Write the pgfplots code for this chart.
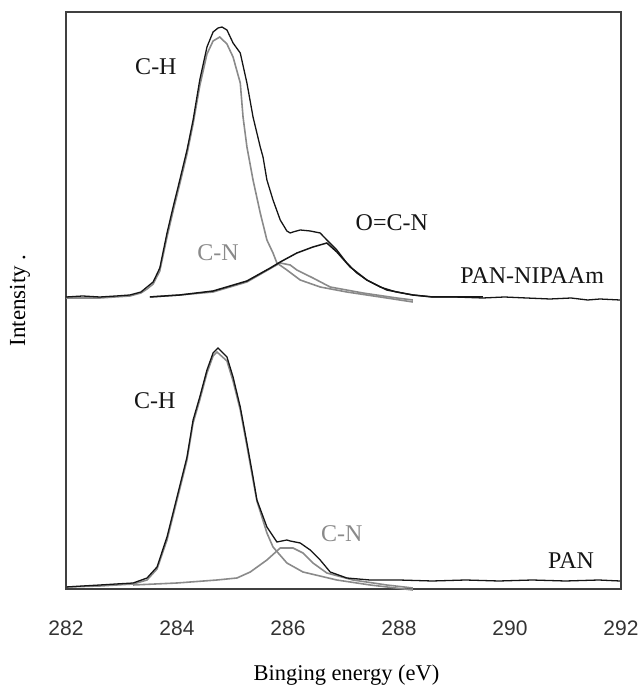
\documentclass[border=0pt]{standalone}
\usepackage{fontspec}
\setmainfont{Liberation Serif}
\newfontfamily\arialfont{Liberation Sans}
\usepackage{pgfplots}
\pgfplotsset{compat=1.18}
\definecolor{gline}{HTML}{8A8A8A}
\definecolor{bline}{HTML}{151515}
\definecolor{axgray}{HTML}{404040}
\begin{document}
\begin{tikzpicture}
\useasboundingbox (0,0) rectangle (640bp,687bp);
\begin{axis}[
  at={(66bp,98bp)}, anchor=south west,
  scale only axis, width=555bp, height=577bp,
  xmin=282, xmax=292, ymin=0, ymax=577,
  xtick={282,284,...,292}, ytick=\empty,
  major tick length=0pt,
  axis line style={axgray, line width=1.1pt},
  /pgf/number format/assume math mode=true,
  /pgf/number format/.cd, 1000 sep={}, /pgfplots/.cd,
  xticklabel style={font=\arialfont\fontsize{21bp}{24bp}\selectfont, text=black!80, anchor=center, yshift=-39bp},
  xlabel={Binging energy (eV)},
  xlabel style={font=\fontsize{22.5bp}{26bp}\selectfont, at={(axis description cs:0.5,0)}, anchor=center, yshift=-86bp, xshift=3bp},
  ylabel={Intensity .},
  ylabel style={font=\fontsize{23bp}{26bp}\selectfont, at={(axis description cs:0,0.5)}, anchor=center, yshift=46bp},
  clip=false,
]
% ---------- PAN-NIPAAm (upper) ----------
% C-H component (grey)
\addplot[gline, line width=1.6pt] coordinates {
(282.00,291) (282.61,291) (283.15,293) (283.35,296) (283.46,300) (283.57,305) (283.69,318)
(283.82,352) (283.93,378) (284.05,405) (284.18,435) (284.29,465) (284.41,503) (284.54,535)
(284.65,548) (284.77,552) (284.90,545) (285.01,532) (285.14,506) (285.19,472) (285.26,442)
(285.37,409) (285.50,376) (285.62,349) (285.73,336) (285.80,326) (285.98,319) (286.22,309)
(286.58,302) (287.06,297) (287.66,292) (288.25,287)};
% C-N component (grey)
\addplot[gline, line width=1.6pt] coordinates {
(283.51,292) (284.05,294) (284.65,297) (285.26,307) (285.73,322) (285.86,326) (286.04,324)
(286.16,319) (286.45,311) (286.76,302) (287.35,296) (287.96,291) (288.25,289)};
% O=C-N component (black)
\addplot[bline, line width=1.5pt] coordinates {
(283.51,292) (284.05,294) (284.65,298) (285.26,308) (285.68,321) (285.86,327) (286.16,336)
(286.45,342) (286.70,346) (286.88,337) (287.12,322) (287.42,309) (287.78,299) (288.25,294)
(288.61,292) (289.51,292)};
% envelope (black)
\addplot[bline, line width=1.3pt] coordinates {
(282.00,292) (282.30,293) (282.61,292) (282.90,293) (283.15,294) (283.35,297) (283.46,302)
(283.57,307) (283.69,321) (283.82,356) (283.93,382) (284.05,409) (284.18,439) (284.29,469)
(284.41,509) (284.54,542) (284.65,557) (284.74,561) (284.81,562) (284.90,559) (285.01,546)
(285.14,536) (285.26,506) (285.37,472) (285.50,442) (285.55,432) (285.62,409) (285.73,389)
(285.86,369) (285.98,358) (286.04,356) (286.09,357) (286.22,359) (286.40,358) (286.58,356)
(286.70,349) (286.88,339) (287.06,326) (287.24,316) (287.42,309) (287.66,302) (287.95,297)
(288.25,294) (288.61,292) (289.00,292) (289.51,291) (289.90,292) (290.30,291) (290.72,290)
(291.10,291) (291.40,289) (291.62,290) (291.98,289)};
% ---------- PAN (lower) ----------
% C-H component (grey)
\addplot[gline, line width=1.6pt] coordinates {
(282.00,2) (282.61,3) (283.21,5) (283.46,9) (283.64,20) (283.82,49) (284.00,89) (284.18,129)
(284.29,166) (284.41,189) (284.54,216) (284.65,233) (284.72,237) (284.90,228) (285.01,208)
(285.14,179) (285.26,143) (285.37,109) (285.44,88) (285.62,56) (285.73,42) (285.98,26)
(286.27,17) (286.88,9) (287.48,4) (288.25,-1)};
% C-N component (grey)
\addplot[gline, line width=1.6pt] coordinates {
(283.21,4) (284.00,6) (284.72,9) (285.08,11) (285.32,17) (285.62,29) (285.86,41) (286.09,41)
(286.27,36) (286.45,26) (286.70,16) (287.17,9) (287.78,4) (288.25,1)};
% envelope (black)
\addplot[bline, line width=1.3pt] coordinates {
(282.00,2) (282.30,3) (282.61,4) (282.90,5) (283.21,6) (283.46,11) (283.64,22) (283.82,52)
(284.00,92) (284.18,132) (284.29,169) (284.41,192) (284.54,219) (284.65,236) (284.74,241)
(284.90,232) (285.01,212) (285.14,182) (285.26,146) (285.37,112) (285.44,89) (285.62,62)
(285.80,47) (285.98,49) (286.04,48) (286.22,46) (286.40,39) (286.58,29) (286.76,17)
(287.06,11) (287.48,9) (288.00,9) (288.60,8) (289.20,9) (289.80,8) (290.40,9) (291.00,8)
(291.60,9) (291.98,8)};
% ---------- annotations ----------
\node[font=\fontsize{24bp}{26bp}\selectfont, text=bline] at (axis cs:283.62,522) {C-H};
\node[font=\fontsize{24bp}{26bp}\selectfont, text=gline] at (axis cs:284.74,336) {C-N};
\node[font=\fontsize{24bp}{26bp}\selectfont, text=bline] at (axis cs:287.87,366) {O=C-N};
\node[font=\fontsize{24bp}{26bp}\selectfont, text=bline] at (axis cs:290.40,313) {PAN-NIPAAm};
\node[font=\fontsize{24bp}{26bp}\selectfont, text=bline] at (axis cs:283.60,188) {C-H};
\node[font=\fontsize{24bp}{26bp}\selectfont, text=gline] at (axis cs:286.97,55) {C-N};
\node[font=\fontsize{24bp}{26bp}\selectfont, text=bline] at (axis cs:291.10,28) {PAN};
\end{axis}
\end{tikzpicture}
\end{document}
